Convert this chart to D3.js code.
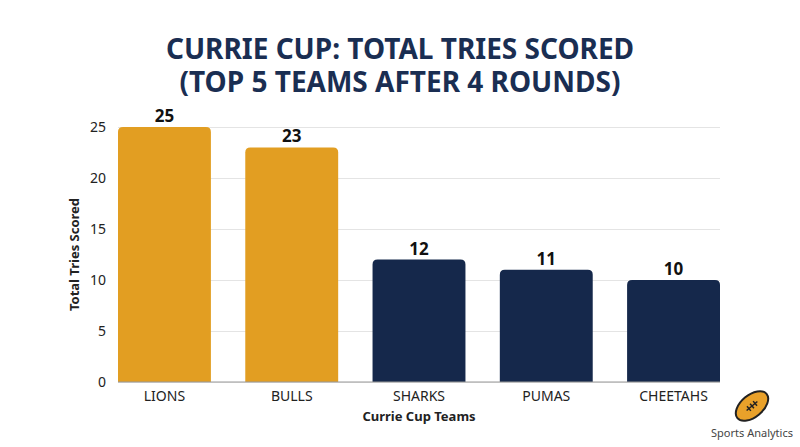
<!DOCTYPE html>
<meta charset="utf-8">
<style>
body { margin:0; background:#fff; font-family:"Noto Sans", sans-serif; }
.grid line { stroke:#e4e4e4; }
.grid path { display:none; }
</style>
<body>
<script src="https://cdn.jsdelivr.net/npm/d3@7"></script>
<script>
var teams = ['LIONS', 'BULLS', 'SHARKS', 'PUMAS', 'CHEETAHS'];
var tries = [25, 23, 12, 11, 10];
var colors = ['#e29e22', '#e29e22', '#15284b', '#15284b', '#15284b'];
var yTicks = [0, 5, 10, 15, 20, 25];

var W = 800, H = 447;
var m = {left: 118, right: 80, top: 127, bottom: 65};

var svg = d3.select('body').append('svg').attr('width', W).attr('height', H);

var x = d3.scaleBand().domain(teams).range([m.left, W - m.right])
    .paddingInner(0.27).paddingOuter(0);
var y = d3.scaleLinear().domain([0, 25]).range([H - m.bottom, m.top]);

svg.append('g').attr('class', 'grid')
    .attr('transform', 'translate(' + m.left + ',0)')
    .call(d3.axisLeft(y).tickValues(yTicks).tickSize(-(W - m.right - m.left)).tickFormat(''));

function topRound(x0, y0, w, h, r) {
  return 'M' + x0 + ',' + (y0 + h) + 'V' + (y0 + r) + 'Q' + x0 + ',' + y0 + ' ' + (x0 + r) + ',' + y0 +
    'H' + (x0 + w - r) + 'Q' + (x0 + w) + ',' + y0 + ' ' + (x0 + w) + ',' + (y0 + r) + 'V' + (y0 + h) + 'Z';
}

svg.selectAll('.bar').data(teams).enter().append('path')
    .attr('d', function(d, i) { return topRound(x(d), y(tries[i]), x.bandwidth(), y(0) - y(tries[i]), 5); })
    .attr('fill', function(d, i) { return colors[i]; });

svg.selectAll('.val').data(teams).enter().append('text')
    .attr('x', function(d) { return x(d) + x.bandwidth() / 2; })
    .attr('y', function(d, i) { return y(tries[i]) - 5; })
    .attr('text-anchor', 'middle').attr('font-size', 17).attr('font-weight', 'bold').attr('fill', '#111')
    .text(function(d, i) { return tries[i]; });

svg.append('line').attr('x1', m.left).attr('x2', W - m.right).attr('y1', y(0)).attr('y2', y(0))
    .attr('stroke', '#999');

svg.selectAll('.yl').data(yTicks).enter().append('text')
    .attr('x', 106).attr('y', function(d) { return y(d) + 5; })
    .attr('text-anchor', 'end').attr('font-size', 14).attr('fill', '#222').text(String);

svg.selectAll('.xl').data(teams).enter().append('text')
    .attr('x', function(d) { return x(d) + x.bandwidth() / 2; }).attr('y', 401)
    .attr('text-anchor', 'middle').attr('font-size', 14).attr('fill', '#222').text(String);

svg.append('text').attr('x', 419).attr('y', 421).attr('text-anchor', 'middle')
    .attr('font-size', 13).attr('font-weight', 'bold').attr('fill', '#222').text('Currie Cup Teams');

svg.append('text').attr('transform', 'translate(79,' + ((m.top + H - m.bottom) / 2) + ') rotate(-90)')
    .attr('text-anchor', 'middle').attr('font-size', 13).attr('font-weight', 'bold').attr('fill', '#222')
    .text('Total Tries Scored');

svg.selectAll('.title').data(['CURRIE CUP: TOTAL TRIES SCORED', '(TOP 5 TEAMS AFTER 4 ROUNDS)'])
    .enter().append('text')
    .attr('x', 400).attr('y', function(d, i) { return 59 + i * 33; })
    .attr('text-anchor', 'middle').attr('font-size', 28).attr('font-weight', 'bold').attr('fill', '#1a2e52')
    .text(String);

// logo
var g = svg.append('g').attr('transform', 'translate(752,406) rotate(-40)');
g.append('ellipse').attr('rx', 19).attr('ry', 11).attr('fill', '#e9a12a').attr('stroke', '#222').attr('stroke-width', 2);
g.append('line').attr('x1', -7).attr('x2', 7).attr('stroke', '#222').attr('stroke-width', 1.5);
[-4, 0, 4].forEach(function(d) {
  g.append('line').attr('x1', d).attr('x2', d).attr('y1', -3).attr('y2', 3).attr('stroke', '#222').attr('stroke-width', 1.5);
});
svg.append('text').attr('x', 752).attr('y', 437).attr('text-anchor', 'middle')
    .attr('font-size', 11).attr('fill', '#444').text('Sports Analytics');
</script>
</body>
